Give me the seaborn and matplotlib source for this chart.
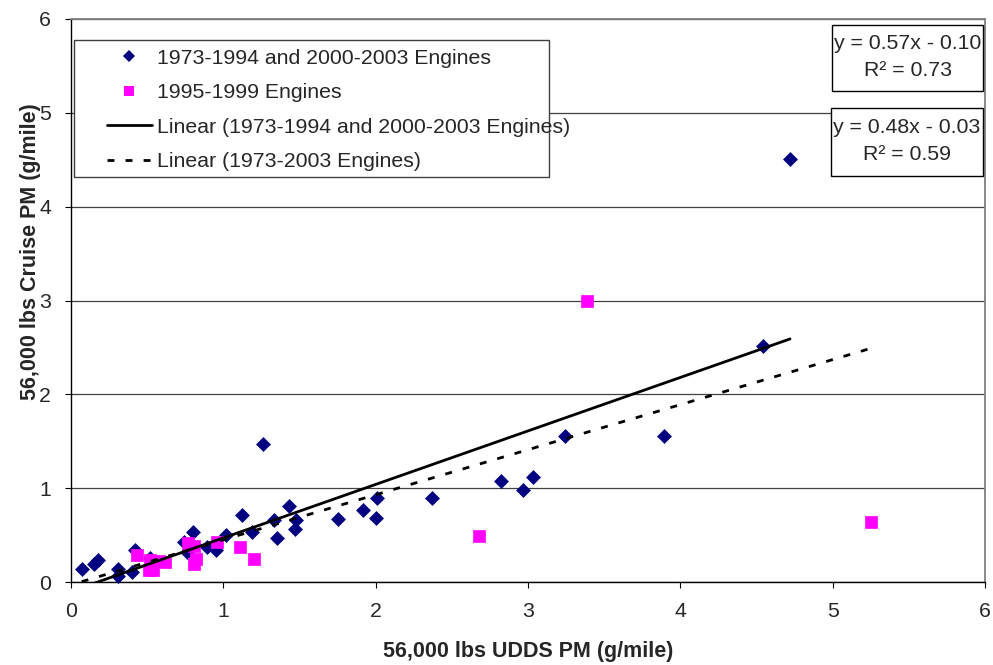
import numpy as np
import pandas as pd
import seaborn as sns
import matplotlib
matplotlib.use("Agg")
import matplotlib.pyplot as plt
from matplotlib.lines import Line2D
from matplotlib.patches import Rectangle

# ---- data ----
blue_x = [0.07, 0.15, 0.18, 0.31, 0.31, 0.40, 0.42, 0.52, 0.74, 0.76, 0.80, 0.89,
          0.95, 1.02, 1.12, 1.19, 1.26, 1.33, 1.35, 1.43, 1.47, 1.48, 1.75, 1.92,
          2.00, 2.01, 2.37, 2.82, 2.97, 3.03, 3.24, 3.89, 4.54, 4.72]
blue_y = [0.14, 0.19, 0.23, 0.14, 0.06, 0.11, 0.34, 0.26, 0.43, 0.32, 0.53, 0.37,
          0.34, 0.50, 0.71, 0.53, 1.47, 0.66, 0.47, 0.81, 0.57, 0.66, 0.67, 0.77,
          0.68, 0.90, 0.89, 1.08, 0.98, 1.12, 1.56, 1.56, 2.52, 4.51]
pink_x = [0.43, 0.51, 0.52, 0.54, 0.58, 0.62, 0.77, 0.81, 0.81, 0.82, 0.96, 1.11,
          1.20, 2.68, 3.39, 5.25]
pink_y = [0.29, 0.13, 0.23, 0.13, 0.22, 0.21, 0.42, 0.38, 0.19, 0.25, 0.43, 0.37,
          0.24, 0.49, 2.99, 0.64]

series_labels = ["1973-1994 and 2000-2003 Engines", "1995-1999 Engines"]
fit_labels = ["Linear (1973-1994 and 2000-2003 Engines)", "Linear (1973-2003 Engines)"]
fit_slope = [0.57, 0.48]
fit_intercept = [-0.10, -0.03]
fit_r2 = [0.73, 0.59]
x_ticks = [0, 1, 2, 3, 4, 5, 6]
y_ticks = [0, 1, 2, 3, 4, 5, 6]
x_label = "56,000 lbs UDDS PM (g/mile)"
y_label = "56,000 lbs Cruise PM (g/mile)"

NAVY = "#000080"
MAGENTA = "#FF00FF"
FS = 15.3

sns.set_theme(style="white")
plt.rcParams["font.family"] = ["Liberation Sans", "DejaVu Sans"]

W, H = 993, 665
fig = plt.figure(figsize=(W / 100, H / 100), dpi=100)
L, R, T, B = 71, 985, 19, 582
ax = fig.add_axes([L / W, (H - B) / H, (R - L) / W, (B - T) / H])


def px2ax(xp, yp):
    return (xp - L) / (R - L), (B - yp) / (B - T)


# gridlines
ax.set_axisbelow(True)
ax.yaxis.grid(True, color="#404040", linewidth=0.9)
ax.xaxis.grid(False)

# scatter series
sns.scatterplot(x=blue_x, y=blue_y, marker="D", s=50, color=NAVY,
                edgecolor=NAVY, linewidth=0.5, ax=ax, zorder=3, clip_on=False)
sns.scatterplot(x=pink_x, y=pink_y, marker="s", s=66, color=MAGENTA,
                edgecolor=MAGENTA, linewidth=0.5, ax=ax, zorder=3, clip_on=False)

# trend lines
bx = np.array([min(blue_x), max(blue_x)])
allx_vals = blue_x + pink_x
ax_ = np.array([min(allx_vals), max(allx_vals)])
sns.lineplot(x=bx, y=fit_slope[0] * bx + fit_intercept[0], color="black",
             linewidth=2.0, ax=ax, zorder=4)
sns.lineplot(x=ax_, y=fit_slope[1] * ax_ + fit_intercept[1], color="black",
             linewidth=2.0, ax=ax, zorder=4)
ax.lines[-1].set_dashes((2.5, 4))

ax.set_xlim(0, 6)
ax.set_ylim(0, 6)
ax.set_xticks(x_ticks)
ax.set_yticks(y_ticks)
ax.set_xticklabels([str(v) for v in x_ticks], fontsize=FS)
ax.set_yticklabels([str(v) for v in y_ticks], fontsize=FS)
ax.tick_params(axis="x", direction="out", length=4.3, width=0.8, color="black",
               pad=10, bottom=True)
ax.tick_params(axis="y", direction="out", length=4.3, width=0.8, color="black",
               pad=10, left=True)

for s in ["left", "bottom"]:
    ax.spines[s].set_color("black")
    ax.spines[s].set_linewidth(1.0)
for s in ["top", "right"]:
    ax.spines[s].set_color("#808080")
    ax.spines[s].set_linewidth(1.3)

ax.set_xlabel(x_label, fontsize=15.5, fontweight="bold")
ax.set_ylabel(y_label, fontsize=15.5, fontweight="bold")
ax.xaxis.set_label_coords(0.5, (B - 641) / (B - T))
ax.yaxis.set_label_coords((41 - L) / (R - L), px2ax(0, 252)[1])

# legend frame (drawn separately to mimic the Excel padding)
x0, y1 = px2ax(74, 40)
x1, y0 = px2ax(549, 177)
ax.add_patch(Rectangle((x0, y0), x1 - x0, y1 - y0, transform=ax.transAxes,
                       facecolor="white", edgecolor="#404040", linewidth=1.0,
                       zorder=5, clip_on=False))

handles = [
    Line2D([], [], marker="D", linestyle="none", color=NAVY, markersize=6.6,
           markeredgewidth=0),
    Line2D([], [], marker="s", linestyle="none", color=MAGENTA, markersize=7.9,
           markeredgewidth=0),
    Line2D([], [], color="black", linewidth=2.0),
    Line2D([], [], color="black", linewidth=2.0, dashes=(2.5, 4)),
]
lx, ly = px2ax(107, 48.5)
leg = ax.legend(handles, series_labels + fit_labels, loc="upper left",
                bbox_to_anchor=(lx, ly), frameon=False, borderpad=0,
                borderaxespad=0, handlelength=2.1, handletextpad=0.25,
                labelspacing=0.73, fontsize=FS)
leg.set_zorder(6)

# equation boxes
eq_boxes = [(832, 983, 25, 91), (831, 983, 108, 176)]
for (bx0, bx1, by0, by1), m, b, r2 in zip(eq_boxes, fit_slope, fit_intercept, fit_r2):
    sign = "-" if b < 0 else "+"
    txt = f"y = {m:.2f}x {sign} {abs(b):.2f}\nR² = {r2:.2f}"
    rx0, ry1 = px2ax(bx0, by0)
    rx1, ry0 = px2ax(bx1, by1)
    ax.add_patch(Rectangle((rx0, ry0), rx1 - rx0, ry1 - ry0,
                           transform=ax.transAxes, facecolor="white",
                           edgecolor="black", linewidth=1.0, zorder=6,
                           clip_on=False))
    ax.text((rx0 + rx1) / 2, (ry0 + ry1) / 2 + 0.002, txt,
            transform=ax.transAxes, ha="center", va="center",
            multialignment="center", fontsize=FS, linespacing=1.55, zorder=7)

fig.savefig("out.png", dpi=100)
